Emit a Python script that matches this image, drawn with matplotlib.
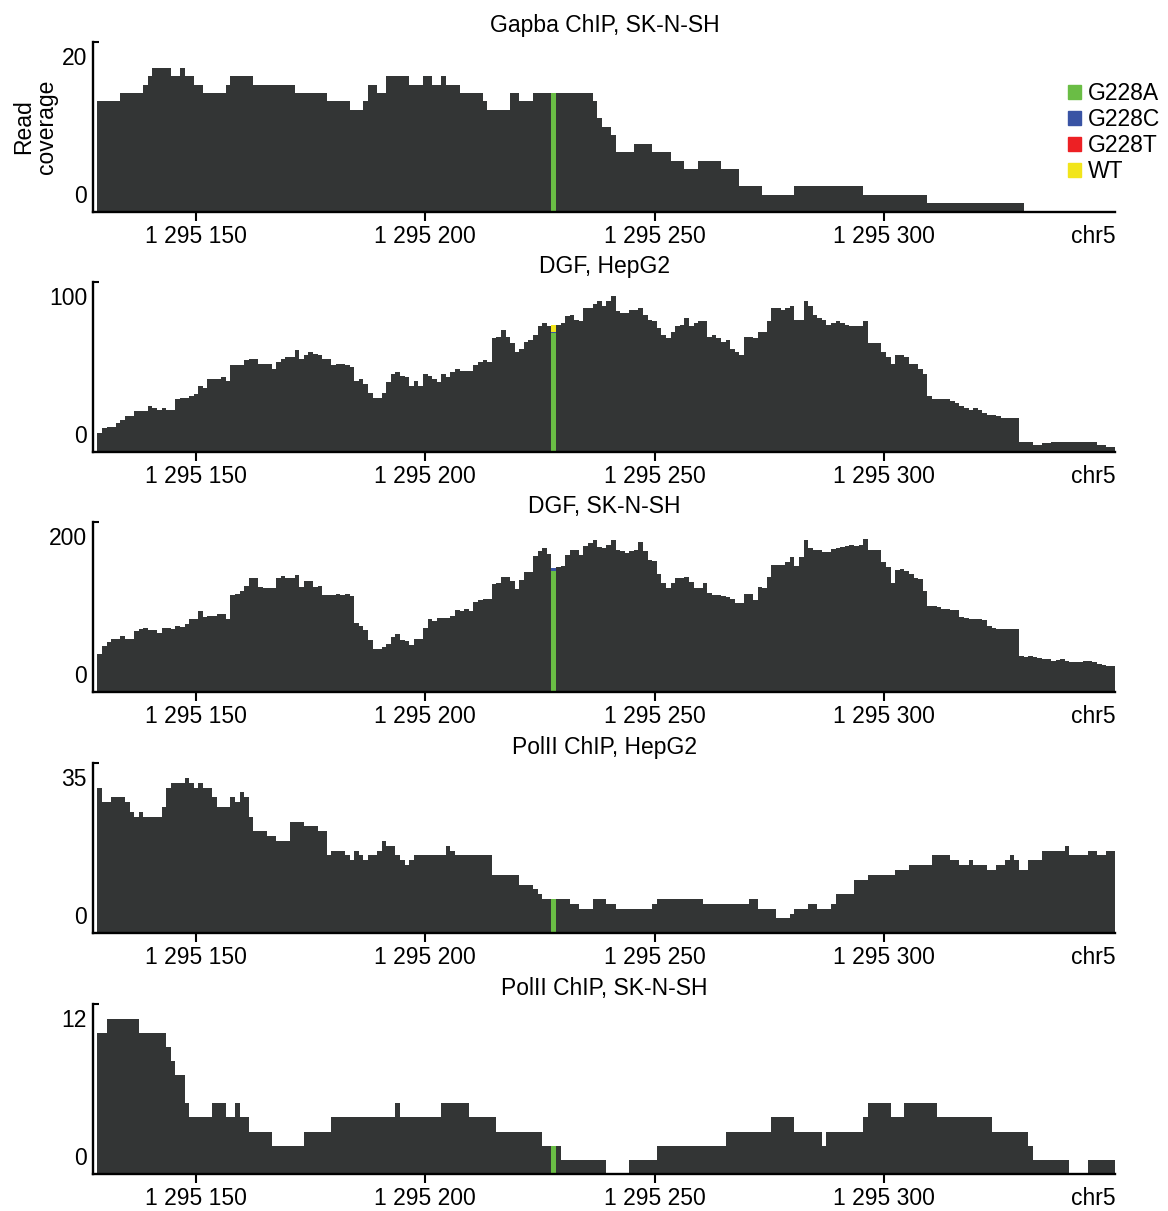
import matplotlib.pyplot as plt
import numpy as np
from matplotlib.patches import Patch

plt.rcParams['font.family'] = ['Liberation Sans', 'DejaVu Sans']

# window on chr5, one value per base starting at 1295129
start = 1295129
snv_pos = 1295228
xticks = [1295150, 1295200, 1295250, 1295300]
xticklabels = ['1 295 150', '1 295 200', '1 295 250', '1 295 300']

titles = ['Gapba ChIP, SK-N-SH', 'DGF, HepG2', 'DGF, SK-N-SH',
          'PolII ChIP, HepG2', 'PolII ChIP, SK-N-SH']
ymax = [20, 100, 200, 35, 12]

# ChIP tracks as runs (length, coverage)
gapba_len = [5, 5, 1, 1, 4, 2, 1, 2, 2, 5, 1, 5, 9, 7, 5, 3, 1, 2, 2, 5,
             3, 2, 2, 1, 3, 5, 1, 5, 2, 3, 13, 1, 1, 2, 1, 4, 4, 4, 3, 3,
             5, 4, 5, 7, 15, 14, 21, 20]
gapba_val = [13, 14, 15, 16, 17, 16, 17, 16, 15, 14, 15, 16, 15, 14, 13, 12, 13, 15, 14, 16,
             15, 16, 15, 16, 15, 14, 13, 12, 14, 13, 14, 13, 11, 10, 9, 7, 8, 7, 6, 5,
             6, 5, 3, 2, 3, 2, 1, 0]

pol2_hepg2_len = [1, 2, 3, 1, 1, 1, 1, 4, 1, 1, 3, 1, 1, 1, 1, 2, 1, 3, 1, 1,
                  1, 1, 1, 3, 2, 3, 3, 3, 2, 1, 3, 1, 1, 1, 1, 1, 2, 1, 1, 2,
                  1, 1, 1, 1, 7, 1, 1, 8, 6, 3, 1, 1, 6, 2, 3, 3, 2, 8, 1, 10,
                  10, 2, 4, 3, 1, 3, 2, 3, 1, 4, 3, 6, 3, 5, 4, 2, 2, 1, 3, 2,
                  2, 1, 1, 1, 2, 3, 5, 1, 4, 2, 2, 2]
pol2_hepg2_val = [30, 27, 28, 27, 25, 24, 25, 24, 26, 30, 31, 32, 31, 30, 31, 30, 28, 26, 28, 27,
                  29, 28, 24, 21, 20, 19, 23, 22, 21, 16, 17, 16, 15, 17, 16, 15, 16, 17, 19, 18,
                  16, 15, 14, 15, 16, 18, 17, 16, 12, 10, 9, 8, 7, 6, 5, 7, 6, 5, 6, 7,
                  6, 7, 5, 3, 4, 5, 6, 5, 6, 8, 11, 12, 13, 14, 16, 15, 14, 15, 14, 13,
                  14, 15, 16, 15, 13, 15, 17, 18, 16, 17, 16, 17]

pol2_sknsh_len = [2, 7, 6, 1, 1, 2, 1, 5, 3, 2, 1, 2, 5, 7, 6, 14, 1, 9, 6, 6,
                  10, 4, 10, 5, 6, 15, 10, 5, 6, 1, 8, 1, 5, 3, 7, 12, 8, 1, 8, 4, 6]
pol2_sknsh_val = [10, 11, 10, 9, 8, 7, 5, 4, 5, 4, 5, 4, 3, 2, 3, 4, 5, 4, 5, 4,
                  3, 2, 1, 0, 1, 2, 3, 4, 3, 2, 3, 4, 5, 4, 5, 4, 3, 2, 1, 0, 1]

# DGF tracks, per base
dgf_hepg2 = [11, 14, 15, 15, 17, 19, 21, 21, 24, 24,
             24, 27, 26, 25, 26, 25, 25, 31, 32, 32,
             33, 34, 39, 38, 43, 43, 43, 44, 42, 51,
             51, 51, 54, 55, 55, 52, 52, 52, 49, 53,
             55, 56, 56, 60, 55, 57, 59, 58, 57, 55,
             55, 51, 52, 52, 51, 50, 42, 43, 40, 35,
             32, 32, 35, 41, 46, 47, 45, 44, 39, 42,
             39, 46, 45, 43, 41, 46, 44, 47, 49, 48,
             48, 48, 51, 53, 54, 53, 67, 68, 72, 68,
             64, 59, 61, 65, 66, 69, 74, 76, 74, 75,
             75, 76, 80, 81, 78, 77, 85, 85, 87, 89,
             86, 89, 92, 83, 82, 82, 84, 84, 85, 81,
             78, 77, 73, 69, 67, 71, 74, 75, 79, 74,
             76, 77, 77, 68, 69, 67, 65, 66, 61, 59,
             57, 68, 68, 67, 71, 71, 77, 85, 85, 84,
             85, 86, 78, 78, 89, 86, 81, 79, 78, 75,
             76, 77, 76, 75, 74, 74, 74, 77, 64, 64,
             64, 59, 56, 52, 57, 57, 56, 52, 52, 49,
             46, 33, 31, 31, 31, 31, 30, 29, 27, 26,
             25, 26, 25, 23, 22, 22, 21, 20, 20, 20,
             20, 6, 6, 6, 4, 4, 5, 5, 6, 6,
             6, 6, 6, 6, 6, 6, 6, 6, 4, 4,
             3, 3]

dgf_sknsh = [45, 54, 59, 62, 63, 66, 62, 62, 72, 74,
             75, 73, 73, 69, 75, 76, 74, 78, 77, 80,
             86, 86, 96, 88, 90, 90, 92, 92, 86, 114,
             116, 119, 125, 135, 135, 124, 123, 123, 123, 134,
             137, 135, 135, 138, 124, 131, 131, 124, 125, 114,
             114, 114, 116, 114, 116, 113, 81, 78, 73, 61,
             51, 51, 53, 57, 65, 68, 61, 60, 55, 62,
             62, 76, 86, 84, 87, 87, 87, 90, 97, 96,
             98, 96, 106, 109, 110, 110, 127, 128, 136, 136,
             131, 121, 132, 141, 142, 160, 166, 170, 163, 146,
             148, 149, 161, 168, 168, 162, 172, 176, 179, 171,
             170, 173, 179, 168, 166, 164, 166, 168, 177, 166,
             156, 154, 139, 129, 123, 129, 134, 135, 136, 130,
             123, 123, 128, 117, 114, 114, 113, 112, 110, 105,
             105, 115, 116, 109, 124, 123, 136, 150, 150, 150,
             153, 159, 149, 159, 179, 170, 168, 167, 165, 165,
             169, 170, 171, 172, 173, 172, 173, 180, 168, 168,
             168, 153, 147, 129, 144, 145, 143, 139, 134, 133,
             119, 102, 102, 100, 98, 98, 97, 97, 88, 87,
             86, 86, 86, 85, 78, 75, 74, 74, 74, 74,
             74, 42, 41, 42, 41, 40, 39, 39, 37, 38,
             39, 37, 35, 35, 35, 36, 37, 35, 33, 32,
             31, 31]

# reads at 1295228 split by allele
alleles = ['G228A', 'G228C', 'G228T', 'WT']
allele_colors = ['#6abd45', '#3953a4', '#ed2024', '#f2e51b']
snv_counts = [[14, 0, 0, 0],
              [70, 1, 0, 4],
              [143, 3, 0, 0],
              [7, 0, 0, 0],
              [2, 0, 0, 0]]

tracks = [np.repeat(gapba_val, gapba_len),
          np.array(dgf_hepg2),
          np.array(dgf_sknsh),
          np.repeat(pol2_hepg2_val, pol2_hepg2_len),
          np.repeat(pol2_sknsh_val, pol2_sknsh_len)]

dark = '#333535'
fs = 16.5

fig = plt.figure(figsize=(11.68, 12.11), dpi=100)
left, width, height = 0.0799, 0.875, 0.14
bottoms = [0.8252, 0.6268, 0.4286, 0.2296, 0.0306]

for i in range(5):
    cov = tracks[i]
    edges = start - 0.5 + np.arange(len(cov) + 1)
    ax = fig.add_axes([left, bottoms[i], width, height])
    ax.stairs(cov, edges, fill=True, color=dark, lw=0)

    base = 0
    for c, col in zip(snv_counts[i], allele_colors):
        if c > 0:
            ax.bar(snv_pos, c, width=1.0, bottom=base, color=col, lw=0)
        base += c

    ax.set_xlim(1295127.6, 1295350.5)
    ax.set_ylim(0, ymax[i])
    ax.spines[['top', 'right']].set_visible(False)
    ax.spines[['left', 'bottom']].set_linewidth(1.7)

    ax.set_xticks(xticks, labels=xticklabels)
    ax.tick_params(axis='x', direction='out', length=6.5, width=1.5,
                   pad=3, labelsize=fs)
    ax.set_yticks([ymax[i]], labels=[''])
    ax.tick_params(axis='y', direction='in', length=4, width=1.5)

    # y labels sit just inside the ends of the axis
    ax.annotate(str(ymax[i]), xy=(0, ymax[i]), xycoords=('axes fraction', 'data'),
                xytext=(-4.5, -11.5), textcoords='offset points',
                ha='right', va='center', fontsize=fs)
    ax.annotate('0', xy=(0, 0), xycoords=('axes fraction', 'data'),
                xytext=(-4.5, 11), textcoords='offset points',
                ha='right', va='center', fontsize=fs)
    ax.annotate('chr5', xy=(1, 0), xycoords='axes fraction',
                xytext=(0, -9.5), textcoords='offset points',
                ha='right', va='top', fontsize=fs)

    ax.set_title(titles[i], fontsize=fs, pad=7)

fig.text(35 / 1168, 1 - 127 / 1211, 'Read\ncoverage', rotation=90,
         ha='center', va='center', fontsize=fs, linespacing=1.0,
         multialignment='center')

handles = [Patch(color=c, label=l) for l, c in zip(alleles, allele_colors)]
fig.legend(handles=handles, loc='upper left',
           bbox_to_anchor=(1068 / 1168, 1 - 82 / 1211), frameon=False,
           fontsize=fs, handlelength=0.55, handleheight=0.55,
           handletextpad=0.3, labelspacing=0.13, borderpad=0, borderaxespad=0)

fig.savefig('out.png', dpi=100)
